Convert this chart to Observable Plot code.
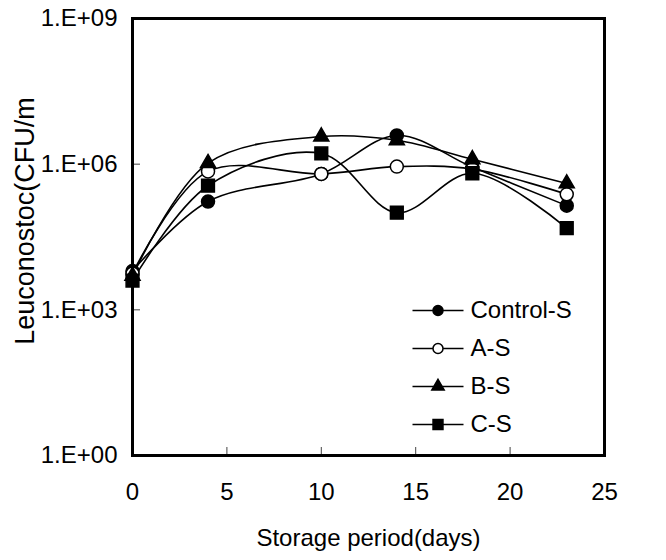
<!DOCTYPE html>
<html>
<head>
<meta charset="utf-8">
<script src="https://cdn.jsdelivr.net/npm/d3@7"></script>
<script src="https://cdn.jsdelivr.net/npm/@observablehq/plot@0.6"></script>
<style>
  html, body { margin: 0; padding: 0; background: #fff; }
</style>
</head>
<body>
<div id="chart"></div>
<script>
// ---- data ----
const days = [0, 4, 10, 14, 18, 23];
const controlS = [6.3e3, 1.7e5, 6.3e5, 3.9e6, 8.7e5, 1.4e5];
const aS       = [5.6e3, 7.1e5, 6.3e5, 8.9e5, 7.9e5, 2.4e5];
const bS       = [5.0e3, 1.05e6, 3.7e6, 3.1e6, 1.26e6, 4.0e5];
const cS       = [4.0e3, 3.6e5, 1.66e6, 1.0e5, 6.5e5, 4.8e4];
const seriesNames = ["Control-S", "A-S", "B-S", "C-S"];
const xTicks = [0, 5, 10, 15, 20, 25];
const yTicks = [1, 1e3, 1e6, 1e9];
const xTitle = "Storage period(days)";
const yTitle = "Leuconostoc(CFU/m";

// ---- build table ----
const seriesValues = [controlS, aS, bS, cS];
const table = seriesNames.flatMap((name, i) =>
  days.map((d, j) => ({series: name, day: d, value: seriesValues[i][j]}))
);

// marker styles per series
const markerStyle = {
  "Control-S": {symbol: "circle", fill: "black", r: 6.5, lr: 5},
  "A-S": {symbol: "circle", fill: "white", r: 6.5, lr: 5},
  "B-S": {symbol: "triangle", fill: "black", r: 5.6, lr: 4.6},
  "C-S": {symbol: "square", fill: "black", r: 7.2, lr: 5.6}
};

const lineSymbol = {
  draw(context, size) {
    const r = Math.sqrt(size / Math.PI);
    context.moveTo(-r, 0);
    context.lineTo(r, 0);
  }
};

const W = 666, H = 560;
const mL = 132, mR = 62, mT = 18, mB = 105;
const frameW = W - mL - mR, frameH = H - mT - mB;
const font = "'Liberation Sans', Arial, sans-serif";

const marks = [];

// data lines
seriesNames.forEach(name => {
  marks.push(Plot.line(table.filter(d => d.series === name), {
    x: "day", y: "value", curve: "catmull-rom",
    stroke: "black", strokeWidth: 1.6
  }));
});
// data markers
seriesNames.forEach(name => {
  const s = markerStyle[name];
  marks.push(Plot.dot(table.filter(d => d.series === name), {
    x: "day", y: "value", symbol: s.symbol, r: s.r,
    fill: s.fill, stroke: "black", strokeWidth: 1.5
  }));
});

// inward ticks
marks.push(Plot.tickX(xTicks.slice(1, -1), {x: d => d, insetTop: frameH - 8, stroke: "#444", strokeWidth: 1}));
marks.push(Plot.tickY(yTicks.slice(1, -1), {y: d => d, insetRight: frameW - 8, stroke: "#444", strokeWidth: 1}));

// axes (labels only)
marks.push(Plot.axisX(xTicks, {tickSize: 0, tickPadding: 27, fontSize: 24, label: null, tickFormat: d => String(d)}));
marks.push(Plot.axisY(yTicks, {tickSize: 0, tickPadding: 15, fontSize: 24, label: null,
  tickFormat: d => "1.E+" + String(Math.round(Math.log10(d))).padStart(2, "0")}));

// frame
marks.push(Plot.frame({stroke: "black", strokeWidth: 3}));

// titles
marks.push(Plot.text([xTitle], {text: d => d, frameAnchor: "bottom", lineAnchor: "middle", dy: 83, fontSize: 24, letterSpacing: "-1.2px"}));
marks.push(Plot.text([yTitle], {text: d => d, frameAnchor: "left", textAnchor: "middle", lineAnchor: "middle", rotate: -90, dx: -107, dy: -16, fontSize: 27}));

// legend
seriesNames.forEach((name, i) => {
  const s = markerStyle[name];
  const dy = 292 + i * 38;
  marks.push(Plot.dot([name], {frameAnchor: "top-left", dx: 305.5, dy, r: 25.5, symbol: lineSymbol, fill: "none", stroke: "black", strokeWidth: 1.6}));
  marks.push(Plot.dot([name], {frameAnchor: "top-left", dx: 305.5, dy, r: s.lr, symbol: s.symbol, fill: s.fill, stroke: "black", strokeWidth: 1.5}));
  marks.push(Plot.text([name], {text: d => d, frameAnchor: "top-left", dx: 338, dy, textAnchor: "start", lineAnchor: "middle", fontSize: 24}));
});

const chart = Plot.plot({
  width: W, height: H,
  marginLeft: mL, marginRight: mR, marginTop: mT, marginBottom: mB,
  style: {fontFamily: font, color: "black", background: "white", overflow: "visible"},
  x: {domain: [0, 25]},
  y: {type: "log", domain: [1, 1e9]},
  marks
});
document.getElementById("chart").appendChild(chart);
</script>
</body>
</html>
